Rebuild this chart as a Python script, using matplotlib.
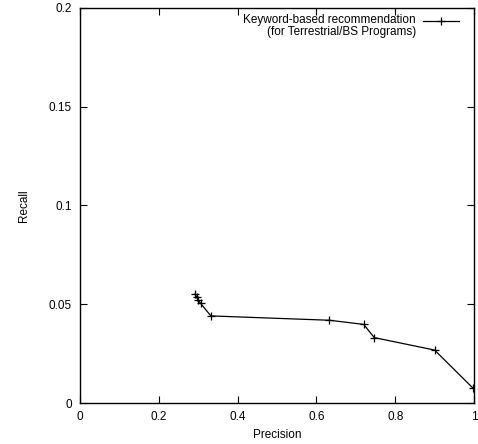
import matplotlib
matplotlib.use('Agg')
from matplotlib import pyplot as plt

# precision / recall points
precision = [0.292, 0.296, 0.300, 0.306, 0.332, 0.633, 0.720, 0.747, 0.900, 0.998]
recall = [0.0552, 0.0537, 0.0522, 0.0505, 0.0441, 0.0419, 0.0398, 0.0331, 0.0268, 0.0074]
label = 'Keyword-based recommendation\n(for Terrestrial/BS Programs)'

xticks = [0, 0.2, 0.4, 0.6, 0.8, 1]
xlabels = ['0', '0.2', '0.4', '0.6', '0.8', '1']
yticks = [0, 0.05, 0.1, 0.15, 0.2]
ylabels = ['0', '0.05', '0.1', '0.15', '0.2']

plt.rcParams['font.family'] = ['Liberation Sans', 'DejaVu Sans']
plt.rcParams['font.size'] = 8.5

fig = plt.figure(figsize=(4.78, 4.44), dpi=100)
ax = fig.add_axes([80/478, 41/444, 394/478, 395/444])

style = dict(color='black', lw=0.9, marker='+', ms=6, mew=0.9)
ax.plot(precision, recall, **style)

ax.set_xlim(0, 1)
ax.set_ylim(0, 0.2)
ax.set_xticks(xticks)
ax.set_xticklabels(xlabels)
ax.set_yticks(yticks)
ax.set_yticklabels(ylabels)
ax.tick_params(direction='in', length=5, width=0.8, top=True, right=True, pad=6)
for s in ax.spines.values():
    s.set_linewidth(1.0)

ax.set_xlabel('Precision', labelpad=4)
ax.set_ylabel('Recall', labelpad=13)

# gnuplot-style key: right-aligned text, sample on the first line
ax.text(0.853, 0.986, label, transform=ax.transAxes, ha='right', va='top',
        multialignment='right', linespacing=1.1)
ax.plot([0.871, 0.962], [0.968, 0.968], transform=ax.transAxes, clip_on=False,
        color='black', lw=0.9)
ax.plot([0.916], [0.968], transform=ax.transAxes, clip_on=False, **style)

fig.savefig('out.png', dpi=100)
